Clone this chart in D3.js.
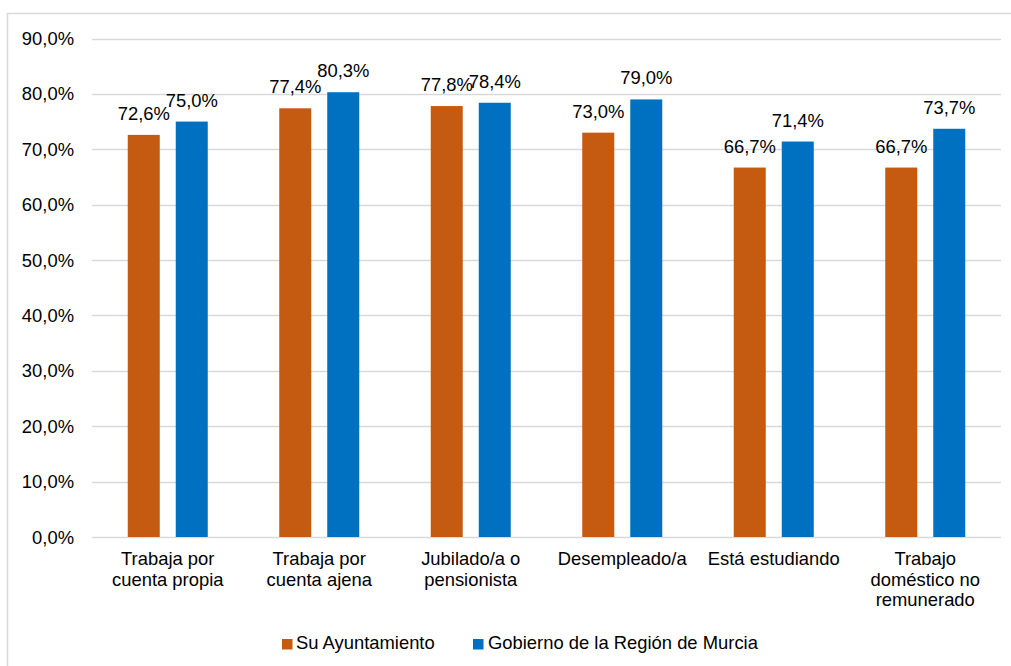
<!DOCTYPE html>
<html><head><meta charset="utf-8">
<script src="https://cdn.jsdelivr.net/npm/d3@7"></script>
<style>body{margin:0;background:#fff}svg{display:block}text{font-family:"Liberation Sans",Arial,sans-serif;fill:#000}</style>
</head><body>
<script>
const categories = [["Trabaja por","cuenta propia"],["Trabaja por","cuenta ajena"],["Jubilado/a o","pensionista"],["Desempleado/a"],["Está estudiando"],["Trabajo","doméstico no","remunerado"]];
const seriesNames = ["Su Ayuntamiento","Gobierno de la Región de Murcia"];
const ayuntamiento = [72.6,77.4,77.8,73.0,66.7,66.7];
const gobierno = [75.0,80.3,78.4,79.0,71.4,73.7];
const yTicks = [0,10,20,30,40,50,60,70,80,90];
const colors = ["#C55A11","#0070C0"];

const W=1011,H=666, FS=18.4;
const svg=d3.select("body").append("svg").attr("width",W).attr("height",H);
svg.append("rect").attr("x",7.5).attr("y",13.5).attr("width",1010).attr("height",670).attr("fill","#fff").attr("stroke","#d9d9d9").attr("stroke-width",1.5);

const L=92,R=1001,T=38.5,B=537;
const x=d3.scaleBand().domain(d3.range(categories.length)).range([L,R]);
const y=d3.scaleLinear().domain([0,90]).range([B,T]);
const fmt=v=>d3.format(".1f")(v).replace(".",",")+"%";

svg.append("g").selectAll("line").data(yTicks).join("line")
 .attr("x1",L).attr("x2",R).attr("y1",d=>Math.round(y(d))+0.5).attr("y2",d=>Math.round(y(d))+0.5)
 .attr("stroke","#d9d9d9").attr("stroke-width",1.5);
svg.append("g").selectAll("text").data(yTicks).join("text")
 .attr("x",74).attr("y",d=>y(d)+6.5).attr("text-anchor","end").attr("font-size",FS).text(d=>fmt(d));

const bw=32, off=24;
const series=[ayuntamiento,gobierno];
series.forEach((vals,si)=>{
  const g=svg.append("g");
  g.selectAll("rect").data(vals).join("rect")
   .attr("x",(d,i)=>x(i)+x.bandwidth()/2+(si?off:-off)-bw/2)
   .attr("y",d=>y(d)).attr("width",bw).attr("height",d=>B-y(d))
   .attr("fill",colors[si]);
  g.selectAll("text").data(vals).join("text")
   .attr("x",(d,i)=>x(i)+x.bandwidth()/2+(si?off:-off))
   .attr("y",d=>y(d)-15).attr("text-anchor","middle").attr("font-size",FS).text(d=>fmt(d));
});

const cg=svg.append("g");
categories.forEach((lines,i)=>{
  const t=cg.append("text").attr("text-anchor","middle").attr("font-size",FS);
  lines.forEach((ln,j)=>t.append("tspan").attr("x",x(i)+x.bandwidth()/2).attr("y",565+j*20.5).text(ln));
});

const leg=[{x:282,tx:296},{x:473,tx:488}];
seriesNames.forEach((n,i)=>{
  svg.append("rect").attr("x",leg[i].x).attr("y",639).attr("width",10.5).attr("height",10.5).attr("fill",colors[i]);
  svg.append("text").attr("x",leg[i].tx).attr("y",649).attr("font-size",FS).text(n);
});
</script>
</body></html>
